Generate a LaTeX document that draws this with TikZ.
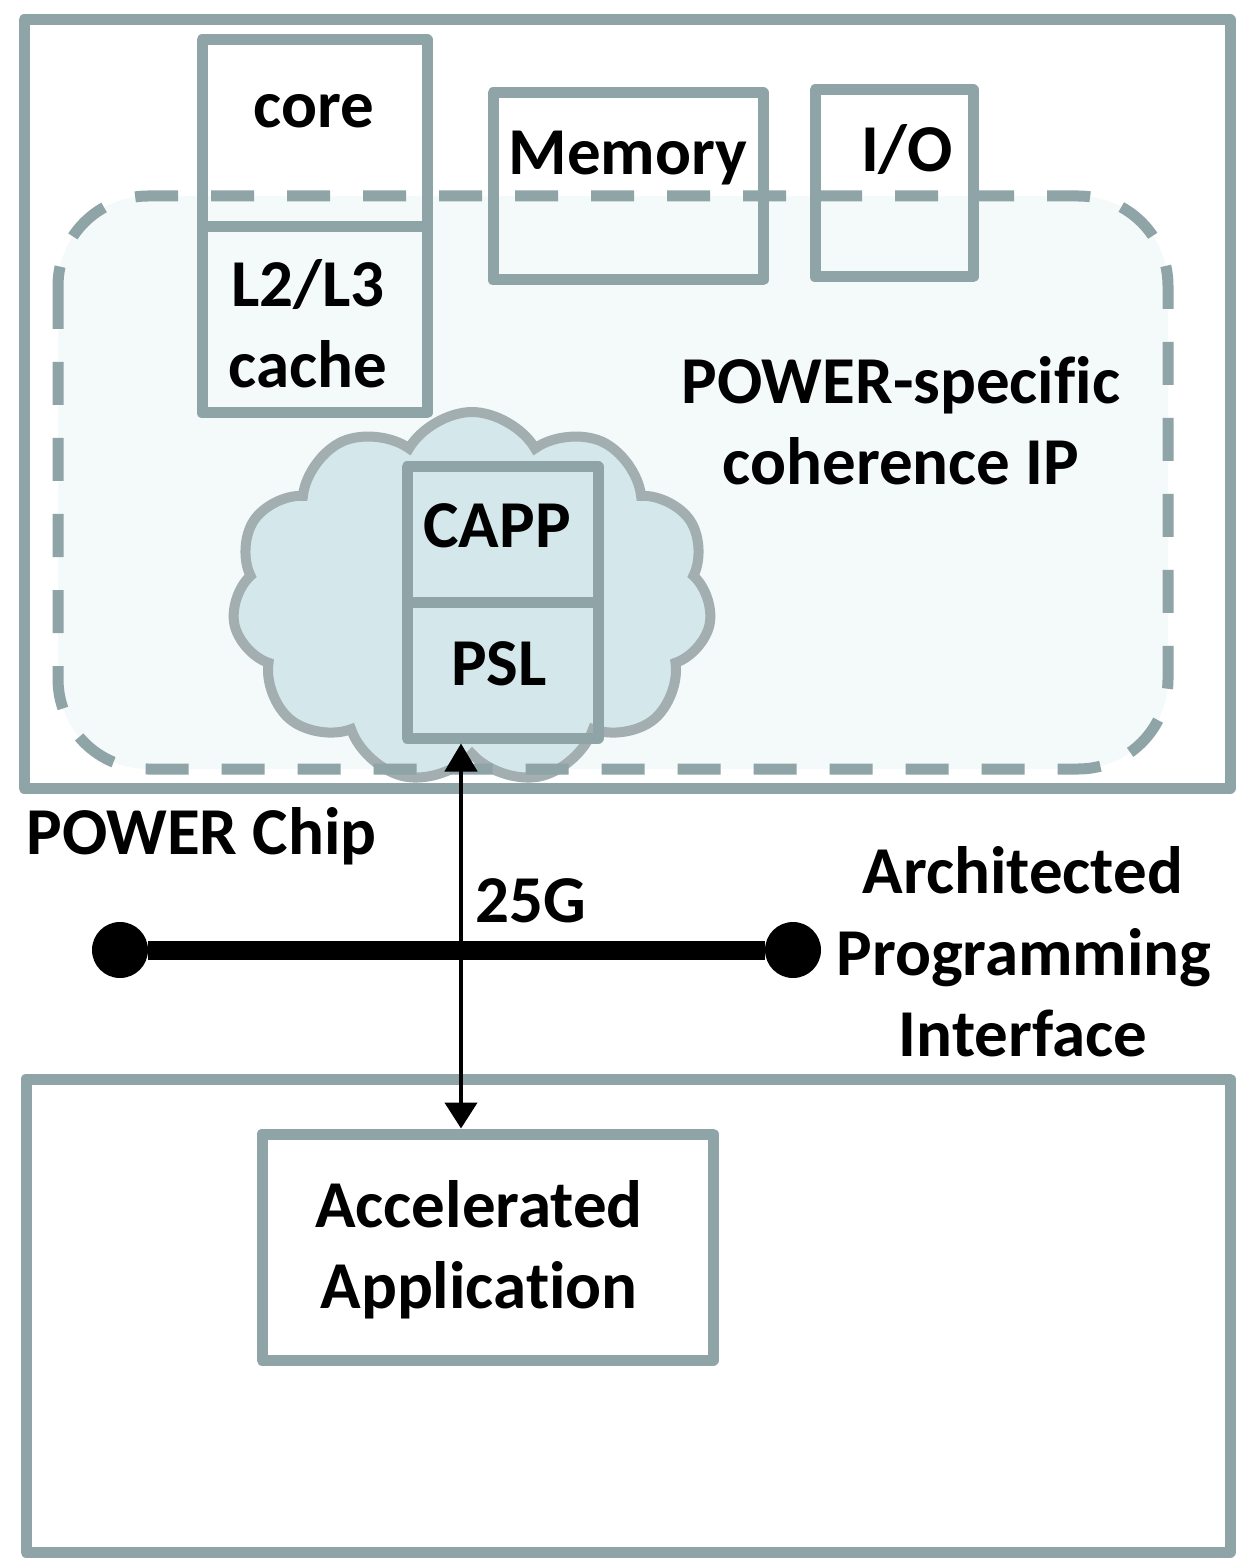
\documentclass[tikz,border=0pt]{standalone}
\usepackage{fontspec}
\setmainfont{Carlito}[Ligatures={NoCommon}]
\usetikzlibrary{shapes.symbols,fit,arrows.meta}
\definecolor{boxgray}{RGB}{143,164,166}
\definecolor{cloudfill}{RGB}{212,231,235}
\definecolor{cloudline}{RGB}{162,174,176}
\definecolor{ipfill}{RGB}{244,249,250}
\begin{document}
\begin{tikzpicture}[x=0.5pt,y=-0.5pt,
  box/.style={draw=boxgray,line width=5.5pt,line join=round,inner sep=0pt},
  lbl/.style={font=\bfseries\fontsize{33.5}{41}\selectfont,inner sep=0pt,anchor=base},
  busdot/.style={circle,fill=black,minimum size=28pt,inner sep=0pt},
  iparea/.style={rounded corners=45pt},
  ipborder/.style={draw=boxgray,line width=5.5pt,dash pattern=on 21.5pt off 16.5pt,rounded corners=45pt},
  puff/.style={cloud,cloud puffs=11,cloud puff arc=120,aspect=1.3,draw=cloudline,fill=cloudfill,line width=5pt,inner sep=0pt}]
\fill[white] (0,0) rectangle (1254,1566);
\useasboundingbox (0,0) rectangle (1254,1566);
% coherence region fill
\fill[ipfill,iparea] (58,196) rectangle (1168,769);
% cloud
\node[puff,minimum width=240pt,minimum height=186pt] (cloud) at (472,598) {};
% coherence region border
\draw[ipborder] (58,196) rectangle (1168,769);
% boxes
\node[box,fit={(24,20) (1230,788)}] (chip) {};
\node[box,fit={(202,40) (427,227)}] (core) {};
\node[box,fit={(202,227) (427,413)}] (cache) {};
\node[box,fit={(493,93) (763,280)}] (mem) {};
\node[box,fit={(815,90) (973,277)}] (io) {};
\node[box,fit={(407,467) (598,602)}] (capp) {};
\node[box,fit={(407,602) (598,738)}] (psl) {};
\node[box,fit={(26,1079) (1230,1552)}] (accel) {};
\node[box,fit={(262,1134) (713,1360)}] (app) {};
% labels
\node[lbl] (tcore) at (314,128) {core};
\node[lbl] (tl2) at (308,307) {L2/L3};
\node[lbl] (tcache) at (308,388) {cache};
\node[lbl] (tmem) at (628,175) {Memory};
\node[lbl] (tio) at (907,172) {I/O};
\node[lbl] (tip1) at (901,404) {POWER-specific};
\node[lbl] (tip2) at (901,485) {coherence IP};
\node[lbl] (tcapp) at (497,547) {CAPP};
\node[lbl] (tpsl) at (499,685) {PSL};
\node[lbl,anchor=base west] (tchip) at (26,854) {POWER Chip};
\node[lbl] (t25) at (531,922) {25G};
\node[lbl] (tapi1) at (1023,893) {Architected};
\node[lbl] (tapi2) at (1024,975) {Programming};
\node[lbl] (tapi3) at (1023,1056) {Interface};
\node[lbl] (tapp1) at (479,1227) {Accelerated};
\node[lbl] (tapp2) at (479,1308) {Application};
% bus
\node[busdot] (b1) at (120,950) {};
\node[busdot] (b2) at (793,950) {};
\draw[line width=9.5pt] (b1) -- (b2);
% arrow
\coordinate (ax) at (461,0);
\draw[line width=2.2pt,{Triangle[length=14pt,width=16pt]}-{Triangle[length=13pt,width=16pt]}] (psl.south -| ax) -- (app.north -| ax);
\end{tikzpicture}
\end{document}
